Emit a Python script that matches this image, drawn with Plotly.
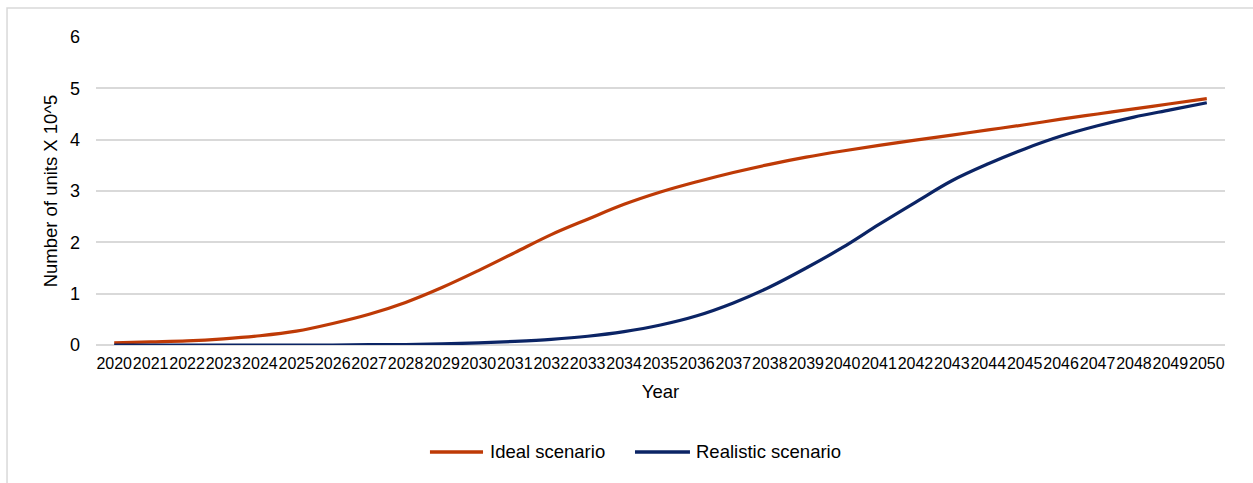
import plotly.graph_objects as go

# Projected number of units (x 10^5) per year under two scenarios
years = [str(y) for y in range(2020, 2051)]
ideal = [0.04, 0.06, 0.08, 0.12, 0.18, 0.27, 0.42, 0.60, 0.83, 1.12,
         1.45, 1.80, 2.15, 2.45, 2.74, 2.98, 3.18, 3.36, 3.52, 3.66,
         3.78, 3.89, 3.99, 4.09, 4.19, 4.29, 4.40, 4.50, 4.60, 4.70, 4.80]
realistic = [0.00, 0.00, 0.00, 0.00, 0.00, 0.00, 0.00, 0.01, 0.01, 0.02,
             0.04, 0.07, 0.11, 0.17, 0.26, 0.39, 0.57, 0.82, 1.13, 1.50,
             1.90, 2.35, 2.78, 3.20, 3.53, 3.82, 4.07, 4.27, 4.44, 4.58, 4.72]
series_names = ["Ideal scenario", "Realistic scenario"]

ORANGE = "#BE3A06"
NAVY = "#0B2465"
FONT = "Liberation Sans, Arial, sans-serif"

fig = go.Figure()
for name, vals, col in [(series_names[0], ideal, ORANGE), (series_names[1], realistic, NAVY)]:
    fig.add_trace(go.Scatter(x=years, y=vals, name=name, mode="lines", showlegend=False,
                             line=dict(color=col, width=3.2, shape="spline", smoothing=1.0)))

# light outline around the chart area
fig.add_shape(type="rect", xref="paper", yref="paper",
              x0=-0.0788, x1=1.2, y0=-1.0, y1=1.094,
              line=dict(color="#D9D9D9", width=1.5), fillcolor="rgba(0,0,0,0)", layer="below")

# legend below the axis title: a line sample followed by the series name
legend_y = -0.3474
legend_items = [
    (series_names[0], ORANGE, 0.2958, 0.3428, 0.3472),
    (series_names[1], NAVY, 0.4774, 0.5261, 0.5297),
]
for name, col, lx0, lx1, tx in legend_items:
    fig.add_shape(type="line", xref="paper", yref="paper",
                  x0=lx0, x1=lx1, y0=legend_y, y1=legend_y,
                  line=dict(color=col, width=3.5))
    fig.add_annotation(xref="paper", yref="paper", x=tx, y=legend_y,
                       text=name, showarrow=False, xanchor="left", yanchor="middle",
                       font=dict(size=18.5, color="#000000"))

fig.update_layout(
    width=1253, height=483,
    margin=dict(l=96, r=28, t=37, b=138),
    paper_bgcolor="white", plot_bgcolor="white",
    font=dict(family=FONT, size=18.5, color="#000000"),
    showlegend=False,
    xaxis=dict(
        type="category", tickmode="array", tickvals=years, ticktext=years,
        tickangle=0, showgrid=False, showline=False, zeroline=False, ticks="",
        tickfont=dict(size=16), ticklabelstandoff=7,
        title=dict(text="Year", font=dict(size=18.5), standoff=14),
        range=[-0.5, len(years) - 0.5],
    ),
    yaxis=dict(
        range=[0, 6], dtick=1, showgrid=True, gridcolor="#D9D9D9", gridwidth=1.5,
        zeroline=True, zerolinecolor="#D9D9D9", zerolinewidth=1.5,
        showline=False, ticks="", tickfont=dict(size=18), ticklabelstandoff=15,
        title=dict(text="Number of units X 10^5", font=dict(size=18.5), standoff=7),
    ),
)

fig.write_html("out.html")
